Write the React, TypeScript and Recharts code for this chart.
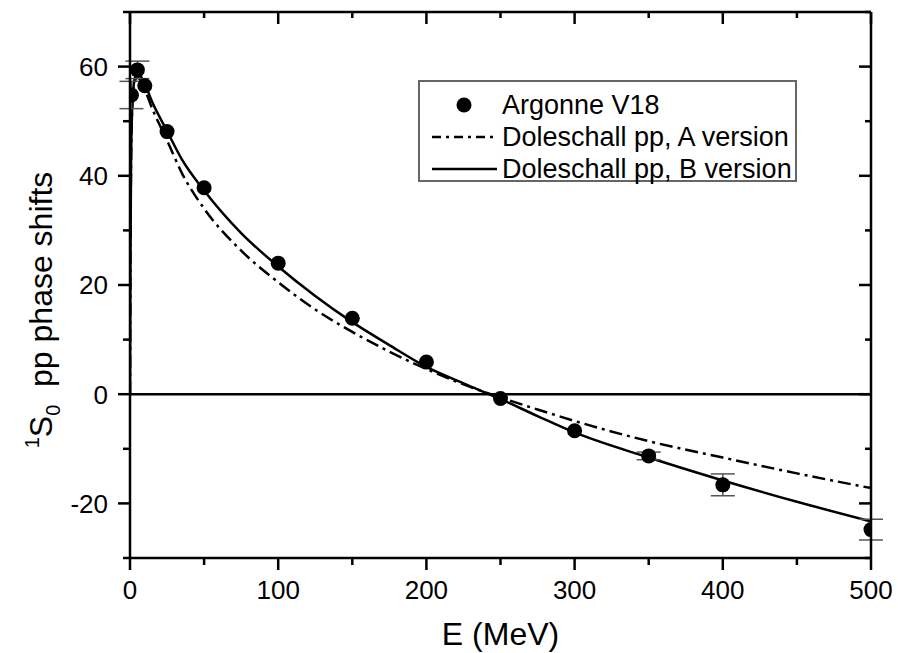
import {
  ComposedChart,
  Line,
  Scatter,
  ErrorBar,
  XAxis,
  YAxis,
  ReferenceLine,
  Legend,
  Label,
} from "recharts";

// Argonne V18 points (E in MeV, phase shift in degrees)
const argonneE = [1, 5, 10, 25, 50, 100, 150, 200, 250, 300, 350, 400, 500];
const argonneDelta = [54.8, 59.4, 56.5, 48.1, 37.8, 24.0, 13.9, 5.9, -0.8, -6.7, -11.3, -16.6, -24.8];
// only the larger error bars stick out of the dots
const argonneErr = [2.5, 1.6, null, null, null, null, null, null, null, null, 0.7, 2.0, 1.9];

// Doleschall pp curves
const curveE = [0, 0.3, 0.7, 1.2, 2, 3, 5, 7, 10, 15, 25, 35, 50, 75, 100, 125, 150, 175, 200, 225, 250, 275, 300, 350, 400, 450, 500];
const versionA = [0, 25, 42, 50, 54.5, 57, 58, 57.5, 55.8, 52.3, 46.5, 40.5, 34, 26.3, 20.5, 15.5, 11.4, 7.8, 4.6, 1.8, -0.6, -2.8, -4.9, -8.6, -11.6, -14.5, -17.2];
const versionB = [0, 25, 42, 50, 55, 57.6, 58.8, 58.3, 56.8, 53.5, 48.2, 43, 37.3, 29.5, 23.4, 18, 13.2, 9, 5.0, 2.0, -0.9, -4, -7, -11.6, -15.8, -19.7, -23.3];

const xTicks = [0, 50, 100, 150, 200, 250, 300, 350, 400, 450, 500];
const yTicks = [-30, -20, -10, 0, 10, 20, 30, 40, 50, 60, 70];

const FONT = "'Liberation Sans', Arial, Helvetica, sans-serif";

const pointsData = argonneE.map((e, i) => ({ e, v: argonneDelta[i], err: argonneErr[i] }));
const aData = curveE.map((e, i) => ({ e, v: versionA[i] }));
const bData = curveE.map((e, i) => ({ e, v: versionB[i] }));

const axisStyle = { stroke: "#000", strokeWidth: 2.5 };

function BottomTick(props: any) {
  const { x, y, payload } = props;
  const major = payload.value % 100 === 0;
  return (
    <g>
      <line x1={x} y1={y} x2={x} y2={y + (major ? 12 : 7)} stroke="#000" strokeWidth={2.5} />
      {major && (
        <text x={x} y={y + 41} textAnchor="middle" fontSize={26} fontFamily={FONT} fill="#000">
          {payload.value}
        </text>
      )}
    </g>
  );
}

function TopTick(props: any) {
  const { x, y, payload } = props;
  const major = payload.value % 100 === 0;
  return <line x1={x} y1={y} x2={x} y2={y + (major ? 12 : 6)} stroke="#000" strokeWidth={2.5} />;
}

function LeftTick(props: any) {
  const { x, y, payload } = props;
  const major = payload.value % 20 === 0;
  return (
    <g>
      <line x1={x} y1={y} x2={x - (major ? 12 : 7)} y2={y} stroke="#000" strokeWidth={2.5} />
      {major && (
        <text x={x - 22} y={y} dy="0.36em" textAnchor="end" fontSize={26} fontFamily={FONT} fill="#000">
          {payload.value}
        </text>
      )}
    </g>
  );
}

function RightTick(props: any) {
  const { x, y, payload } = props;
  const major = payload.value % 20 === 0;
  return <line x1={x} y1={y} x2={x - (major ? 12 : 6)} y2={y} stroke="#000" strokeWidth={2.5} />;
}

function YTitle(props: any) {
  const vb = props.viewBox;
  const cx = vb.x + 52;
  const cy = vb.y + vb.height / 2 + 25;
  return (
    <text
      x={cx}
      y={cy}
      transform={`rotate(-90, ${cx}, ${cy})`}
      textAnchor="middle"
      fontSize={32}
      fontFamily={FONT}
      fill="#000"
    >
      <tspan fontSize={20} dy={-13}>1</tspan>
      <tspan dy={13}>S</tspan>
      <tspan fontSize={20} dy={8}>0</tspan>
      <tspan dy={-8}>{"\u00a0\u00a0pp phase shifts"}</tspan>
    </text>
  );
}

function XTitle(props: any) {
  const vb = props.viewBox;
  return (
    <text x={vb.x + vb.width / 2} y={vb.y + 87} textAnchor="middle" fontSize={32} fontFamily={FONT} fill="#000">
      E (MeV)
    </text>
  );
}

function LegendBox() {
  const row = { height: 32, display: "flex", alignItems: "center" } as const;
  return (
    <div
      style={{
        width: 379,
        height: 102,
        boxSizing: "border-box",
        border: "2px solid #666",
        background: "#fff",
        paddingTop: 7,
        fontFamily: FONT,
        fontSize: 27,
        color: "#000",
        lineHeight: "32px",
      }}
    >
      <div style={row}>
        <svg width={82} height={32}>
          <circle cx={44} cy={16} r={7.5} fill="#000" />
        </svg>
        <span>Argonne V18</span>
      </div>
      <div style={row}>
        <svg width={82} height={32}>
          <line x1={12} y1={16} x2={77} y2={16} stroke="#000" strokeWidth={2.5} strokeDasharray="9 5 3 5" />
        </svg>
        <span>Doleschall pp, A version</span>
      </div>
      <div style={row}>
        <svg width={82} height={32}>
          <line x1={12} y1={16} x2={77} y2={16} stroke="#000" strokeWidth={2.5} />
        </svg>
        <span>Doleschall pp, B version</span>
      </div>
    </div>
  );
}

export default function App() {
  return (
    <div style={{ position: "absolute", left: 0, top: 0, width: 898, height: 653, background: "#fff" }}>
      <ComposedChart width={898} height={653} margin={{ top: 11, right: 26, left: 0, bottom: 0 }}>
        <XAxis
          xAxisId="bottom"
          dataKey="e"
          type="number"
          domain={[0, 500]}
          allowDataOverflow
          ticks={xTicks}
          interval={0}
          height={95}
          axisLine={axisStyle}
          tickLine={false}
          tickSize={0}
          tickMargin={0}
          tick={<BottomTick />}
        >
          <Label content={<XTitle />} />
        </XAxis>
        <XAxis
          xAxisId="top"
          orientation="top"
          dataKey="e"
          type="number"
          domain={[0, 500]}
          allowDataOverflow
          ticks={xTicks}
          interval={0}
          height={1}
          axisLine={axisStyle}
          tickLine={false}
          tickSize={0}
          tickMargin={0}
          tick={<TopTick />}
        />
        <YAxis
          yAxisId="left"
          type="number"
          domain={[-30, 70]}
          allowDataOverflow
          ticks={yTicks}
          interval={0}
          width={130}
          axisLine={axisStyle}
          tickLine={false}
          tickSize={0}
          tickMargin={0}
          tick={<LeftTick />}
        >
          <Label content={<YTitle />} />
        </YAxis>
        <YAxis
          yAxisId="right"
          orientation="right"
          type="number"
          domain={[-30, 70]}
          allowDataOverflow
          ticks={yTicks}
          interval={0}
          width={1}
          axisLine={axisStyle}
          tickLine={false}
          tickSize={0}
          tickMargin={0}
          tick={<RightTick />}
        />
        <ReferenceLine xAxisId="bottom" yAxisId="left" y={0} stroke="#000" strokeWidth={2.5} />
        {/* invisible series so the mirrored top/right axes get drawn */}
        <Line
          xAxisId="top"
          yAxisId="right"
          data={bData}
          dataKey="v"
          stroke="none"
          dot={false}
          activeDot={false}
          legendType="none"
          isAnimationActive={false}
        />
        <Line
          xAxisId="bottom"
          yAxisId="left"
          data={aData}
          dataKey="v"
          type="monotone"
          stroke="#000"
          strokeWidth={2.5}
          strokeDasharray="13 5 3 5"
          dot={false}
          activeDot={false}
          isAnimationActive={false}
        />
        <Line
          xAxisId="bottom"
          yAxisId="left"
          data={bData}
          dataKey="v"
          type="monotone"
          stroke="#000"
          strokeWidth={2.5}
          dot={false}
          activeDot={false}
          isAnimationActive={false}
        />
        <Scatter
          xAxisId="bottom"
          yAxisId="left"
          data={pointsData}
          dataKey="v"
          fill="#000"
          isAnimationActive={false}
          shape={(p: any) => <circle cx={p.cx} cy={p.cy} r={7.5} fill="#000" />}
        >
          <ErrorBar dataKey="err" direction="y" width={12} stroke="#555" strokeWidth={1.5} isAnimationActive={false} />
        </Scatter>
        <Legend
          layout="horizontal"
          verticalAlign="middle"
          align="center"
          content={<LegendBox />}
          wrapperStyle={{ position: "absolute", left: 418, top: 80, width: 379, height: 102 }}
        />
      </ComposedChart>
    </div>
  );
}
